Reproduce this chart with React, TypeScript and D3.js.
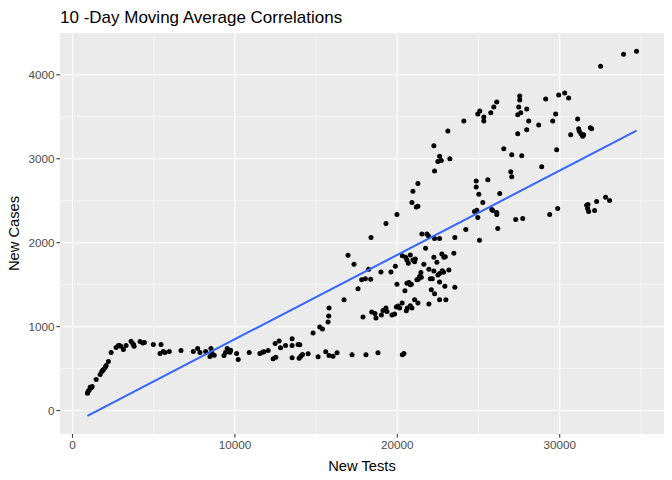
import React from 'react';
import * as d3 from 'd3';

// 10-day moving averages
const newTests = [
  922, 965, 1027, 1088, 1150, 1211, 1457, 1703, 1807, 1856, 1906, 2010, 2072, 2213,
  2379, 2686, 2828, 2889, 2975, 3135, 3301, 3608, 3713, 3750, 3793, 4162, 4328, 4426,
  4979, 5452, 5391, 5594, 5698, 5963, 6682, 7438, 7708, 7850,
  8200, 8464, 8569, 8526, 8729, 9325, 9430, 9528, 9694, 9737,
  10106, 10204, 10880, 11538,
  11704, 11784, 12048, 12355, 12522, 12478, 12724, 12810, 13118, 13523,
  13523, 13523, 13892, 13997, 13954, 14058, 14163, 14507, 14814, 15122,
  15226, 15392, 15595, 15736, 15779, 15798, 15798, 16044, 16290, 16720,
  17212, 17888, 18072, 18423, 18625, 18687, 18810, 19019, 19117, 19302,
  19363, 19670, 19836, 19941, 20039, 20144, 20298, 20311, 20408, 20556,
  20618, 20802, 20900, 21066, 21269, 21945, 22603, 22990,
  22295, 21269, 20962, 20900, 21170, 21269, 24859, 24859, 25019, 24755,
  24896, 24957, 19978, 19302, 24219, 18380, 21515, 21822, 21927, 22295,
  22603, 23544, 25062, 21742, 16966, 20310, 20513, 20593, 20679, 20802,
  20962, 21109, 21066, 22744, 22867, 22953, 23482, 22252, 22437, 21638,
  17335, 19880, 18238, 18994, 19609, 21945, 22252, 22498, 22603, 22769,
  22849, 23175, 21453, 21374, 21294, 21207, 21478, 17808, 18035, 18361,
  22031, 22154, 22603, 19978, 20593, 20716, 20802, 20863, 22928, 23543,
  17581, 20470, 22092, 22295,
  34731, 33932, 32518, 30305, 29936, 30551, 29137, 27539, 27539, 26125,
  25941, 25756, 25080, 24957, 25326, 25326,
  27477, 27969, 27600, 27416, 28092, 29752, 29568, 24096, 23113, 31104,
  28707, 27969, 27416, 31166, 31209, 31313, 31412, 31473,
  31885, 31965, 30674, 26555, 29813, 27047, 27662, 22603, 22707, 23236,
  22498, 22252, 28891, 26985, 27047, 25572, 26309, 25265,
  25818, 25879, 26125, 26125, 26186, 27293, 27723, 29383, 29875, 31658,
  31743, 31719, 31781, 32150, 32273, 32826, 33072,
];

const newCases = [
  205, 229, 241, 277, 273, 288, 371, 431, 466, 478, 490, 513, 538, 585,
  691, 751, 774, 774, 766, 727, 774, 825, 798, 787, 766, 822, 806, 810,
  786, 786, 679, 703, 691, 703, 715, 703, 739, 691,
  703, 644, 691, 739, 659, 656, 695, 739, 695, 719,
  679, 608, 691, 679,
  695, 700, 715, 617, 636, 798, 830, 747, 774, 854,
  774, 628, 786, 783, 624, 647, 668, 676, 925, 640,
  996, 972, 700, 1055, 1127, 1221, 656, 647, 688, 1320,
  664, 1115, 664, 1174, 1157, 1103, 688, 1138, 1193, 1221,
  1181, 1138, 1150, 1233, 1245, 1221, 1281, 664, 679, 1189,
  1221, 1249, 1221, 1320, 1281, 1269, 1320, 1320,
  2853, 2704, 2612, 2478, 2426, 2434, 2734, 2663, 2577, 2372,
  2387, 2300, 2336, 2229, 2158, 2063, 2102, 2102, 2079, 2051,
  2051, 2063, 2028, 1933, 1850, 1845, 1826, 1794, 1755, 1853,
  1794, 1806, 1774, 1865, 1826, 1833, 1874, 1826, 1767, 1743,
  1743, 1719, 1684, 1652, 1652, 1684, 1664, 1616, 1632, 1667,
  1648, 1676, 1644, 1596, 1565, 1557, 1589, 1557, 1569, 1565,
  1569, 1569, 1533, 1506, 1518, 1525, 1498, 1506, 1482, 1470,
  1450, 1427, 1438, 1391,
  4281, 4245, 4103, 3783, 3759, 3723, 3712, 3747, 3700, 3676,
  3617, 3549, 3569, 3534, 3498, 3451,
  3617, 3593, 3549, 3525, 3451, 3534, 3451, 3451, 3332, 3474,
  3403, 3344, 3297, 3356, 3327, 3297, 3268, 3285,
  3368, 3356, 3285, 3119, 3107, 3048, 3036, 3031, 2980, 3000,
  2968, 3154, 2905, 2846, 2787, 2751, 2585, 2478,
  2395, 2383, 2360, 2336, 2170, 2277, 2289, 2336, 2407, 2446,
  2455, 2407, 2372, 2383, 2490, 2541, 2502,
];

const xTicks = [0, 10000, 20000, 30000];
const xMinor = [5000, 15000, 25000, 35000];
const yTicks = [0, 1000, 2000, 3000, 4000];
const yMinor = [500, 1500, 2500, 3500];

const W = 672;
const H = 480;
const margin = { top: 33, right: 8, bottom: 46, left: 60 };
const font = '"Liberation Sans", Arial, sans-serif';

// ordinary least squares, like geom_smooth(method = "lm")
function linearFit(xs: number[], ys: number[]) {
  const mx = d3.mean(xs) as number;
  const my = d3.mean(ys) as number;
  let sxy = 0;
  let sxx = 0;
  xs.forEach((x, i) => {
    sxy += (x - mx) * (ys[i] - my);
    sxx += (x - mx) * (x - mx);
  });
  const slope = sxy / sxx;
  return { slope, intercept: my - slope * mx };
}

function expand([a, b]: number[]) {
  const pad = (b - a) * 0.05;
  return [a - pad, b + pad];
}

const App: React.FC = () => {
  const points = newTests.map((t, i) => ({ t, c: newCases[i] }));
  const fit = linearFit(newTests, newCases);
  const [tMin, tMax] = d3.extent(newTests) as [number, number];
  const fitLine = [tMin, tMax].map(t => ({ t, c: fit.intercept + fit.slope * t }));

  const x = d3.scaleLinear()
    .domain(expand([tMin, tMax]))
    .range([margin.left, W - margin.right]);

  const yExtent = d3.extent([...newCases, ...fitLine.map(d => d.c)]) as [number, number];
  const y = d3.scaleLinear()
    .domain(expand(yExtent))
    .range([H - margin.bottom, margin.top]);

  const line = d3.line<{ t: number; c: number }>()
    .x(d => x(d.t))
    .y(d => y(d.c));

  const [x0, x1] = x.range();
  const [y0, y1] = y.range();

  return (
    <svg width={W} height={H} style={{ position: 'absolute', left: 0, top: 0, background: '#fff' }}>
      <text x={margin.left} y={23} fontFamily={font} fontSize={17} fill="#000">
        10 -Day Moving Average Correlations
      </text>

      <rect x={x0} y={y1} width={x1 - x0} height={y0 - y1} fill="#EBEBEB" />

      {/* grid */}
      {xMinor.map(v => (
        <line key={'xm' + v} x1={x(v)} x2={x(v)} y1={y1} y2={y0} stroke="#fff" strokeWidth={0.55} />
      ))}
      {yMinor.map(v => (
        <line key={'ym' + v} x1={x0} x2={x1} y1={y(v)} y2={y(v)} stroke="#fff" strokeWidth={0.55} />
      ))}
      {xTicks.map(v => (
        <line key={'x' + v} x1={x(v)} x2={x(v)} y1={y1} y2={y0} stroke="#fff" strokeWidth={1.1} />
      ))}
      {yTicks.map(v => (
        <line key={'y' + v} x1={x0} x2={x1} y1={y(v)} y2={y(v)} stroke="#fff" strokeWidth={1.1} />
      ))}

      {/* points */}
      {points.map((d, i) => (
        <circle key={i} cx={x(d.t)} cy={y(d.c)} r={2.5} fill="#000" />
      ))}

      {/* fitted line */}
      <path d={line(fitLine) || ''} fill="none" stroke="#3366FF" strokeWidth={2} />

      {/* x axis */}
      {xTicks.map(v => (
        <g key={'xt' + v}>
          <line x1={x(v)} x2={x(v)} y1={y0} y2={y0 + 3.6} stroke="#333" strokeWidth={1.1} />
          <text x={x(v)} y={y0 + 15} textAnchor="middle" fontFamily={font} fontSize={11.7} fill="#4D4D4D">
            {v}
          </text>
        </g>
      ))}
      {/* y axis */}
      {yTicks.map(v => (
        <g key={'yt' + v}>
          <line x1={x0 - 3.6} x2={x0} y1={y(v)} y2={y(v)} stroke="#333" strokeWidth={1.1} />
          <text x={x0 - 5.5} y={y(v) + 4} textAnchor="end" fontFamily={font} fontSize={11.7} fill="#4D4D4D">
            {v}
          </text>
        </g>
      ))}

      <text x={(x0 + x1) / 2} y={H - 9} textAnchor="middle" fontFamily={font} fontSize={14.7} fill="#000">
        New Tests
      </text>
      <text
        transform={`translate(19,${(y0 + y1) / 2}) rotate(-90)`}
        textAnchor="middle"
        fontFamily={font}
        fontSize={14.7}
        fill="#000"
      >
        New Cases
      </text>
    </svg>
  );
};

export default App;
